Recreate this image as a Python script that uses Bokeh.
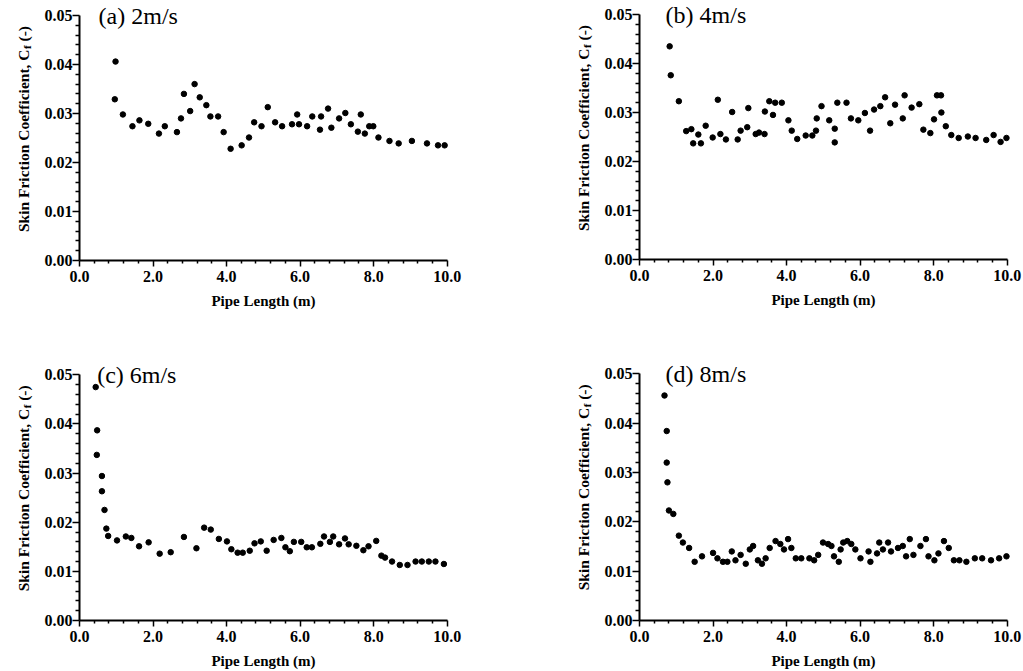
from math import pi
from bokeh.plotting import figure
from bokeh.layouts import row, column
from bokeh.models import Range1d, FixedTicker, PrintfTickFormatter, Label
from bokeh.embed import file_html
from bokeh.resources import INLINE

# ---------------- data ----------------
x_a = [0.96, 0.98, 1.18, 1.44, 1.63, 1.87, 2.16, 2.32, 2.65, 2.76, 2.84, 3.01, 3.13, 3.27,
       3.45, 3.56, 3.77, 3.92, 4.11, 4.41, 4.61, 4.75, 4.95, 5.12, 5.32, 5.51, 5.78, 5.92,
       5.97, 6.19, 6.33, 6.54, 6.57, 6.76, 6.85, 7.06, 7.23, 7.38, 7.57, 7.65, 7.76, 7.88,
       7.99, 8.13, 8.43, 8.68, 9.04, 9.45, 9.75, 9.93]
y_a = [0.0329, 0.0406, 0.0298, 0.0274, 0.0286, 0.0279, 0.0259, 0.0274, 0.0262, 0.0290,
       0.0340, 0.0305, 0.0360, 0.0333, 0.0317, 0.0294, 0.0294, 0.0262, 0.0228, 0.0235,
       0.0251, 0.0282, 0.0274, 0.0313, 0.0282, 0.0274, 0.0278, 0.0298, 0.0278, 0.0274,
       0.0294, 0.0267, 0.0294, 0.0310, 0.0271, 0.0290, 0.0301, 0.0278, 0.0263, 0.0298,
       0.0259, 0.0274, 0.0274, 0.0251, 0.0244, 0.0239, 0.0244, 0.0239, 0.0235, 0.0235]

x_b = [0.82, 0.85, 1.07, 1.27, 1.41, 1.46, 1.60, 1.67, 1.80, 1.99, 2.13, 2.20, 2.35, 2.52,
       2.67, 2.75, 2.93, 2.96, 3.16, 3.25, 3.40, 3.41, 3.53, 3.63, 3.69, 3.87, 4.05, 4.14,
       4.29, 4.52, 4.70, 4.80, 4.82, 4.95, 5.16, 5.31, 5.31, 5.38, 5.63, 5.75, 5.95, 6.13,
       6.27, 6.38, 6.55, 6.68, 6.82, 6.95, 7.16, 7.21, 7.40, 7.61, 7.72, 7.91, 8.01, 8.09,
       8.20, 8.21, 8.33, 8.48, 8.68, 8.93, 9.14, 9.43, 9.63, 9.82, 9.98]
y_b = [0.0435, 0.0376, 0.0323, 0.0262, 0.0266, 0.0237, 0.0255, 0.0237, 0.0273, 0.0249,
       0.0326, 0.0256, 0.0245, 0.0301, 0.0245, 0.0263, 0.0270, 0.0309, 0.0256, 0.0259,
       0.0256, 0.0302, 0.0323, 0.0295, 0.0320, 0.0320, 0.0284, 0.0263, 0.0246, 0.0253,
       0.0253, 0.0263, 0.0288, 0.0313, 0.0284, 0.0267, 0.0239, 0.0320, 0.0320, 0.0288,
       0.0284, 0.0299, 0.0263, 0.0306, 0.0313, 0.0331, 0.0278, 0.0316, 0.0288, 0.0335,
       0.0310, 0.0317, 0.0265, 0.0258, 0.0286, 0.0335, 0.0335, 0.0300, 0.0272, 0.0254,
       0.0248, 0.0251, 0.0248, 0.0244, 0.0254, 0.0240, 0.0248]

x_c = [0.44, 0.48, 0.47, 0.61, 0.61, 0.68, 0.73, 0.78, 1.02, 1.26, 1.41, 1.62, 1.88, 2.18,
       2.48, 2.84, 3.18, 3.39, 3.57, 3.79, 4.01, 4.13, 4.30, 4.44, 4.63, 4.76, 4.93, 5.09,
       5.28, 5.49, 5.60, 5.72, 5.83, 6.03, 6.18, 6.32, 6.55, 6.65, 6.81, 6.90, 7.06, 7.22,
       7.32, 7.53, 7.72, 7.86, 8.07, 8.21, 8.31, 8.50, 8.71, 8.92, 9.14, 9.31, 9.50, 9.68,
       9.91]
y_c = [0.0475, 0.0387, 0.0337, 0.0294, 0.0263, 0.0225, 0.0187, 0.0172, 0.0163, 0.0171,
       0.0168, 0.0151, 0.0159, 0.0136, 0.0139, 0.0170, 0.0147, 0.0189, 0.0185, 0.0166,
       0.0161, 0.0145, 0.0138, 0.0138, 0.0142, 0.0157, 0.0161, 0.0142, 0.0164, 0.0168,
       0.0149, 0.0141, 0.0160, 0.0160, 0.0149, 0.0149, 0.0156, 0.0171, 0.0160, 0.0171,
       0.0155, 0.0167, 0.0155, 0.0152, 0.0143, 0.0151, 0.0162, 0.0132, 0.0128, 0.0120,
       0.0113, 0.0113, 0.0120, 0.0120, 0.0120, 0.0120, 0.0115]

x_d = [0.68, 0.74, 0.74, 0.76, 0.80, 0.92, 1.07, 1.18, 1.35, 1.50, 1.70, 2.00, 2.12, 2.27,
       2.39, 2.51, 2.61, 2.75, 2.89, 3.00, 3.09, 3.22, 3.33, 3.43, 3.54, 3.70, 3.83, 3.93,
       4.04, 4.13, 4.25, 4.40, 4.62, 4.75, 4.86, 4.99, 5.13, 5.22, 5.29, 5.42, 5.47, 5.54,
       5.65, 5.76, 5.87, 6.01, 6.23, 6.28, 6.46, 6.52, 6.62, 6.76, 6.84, 7.03, 7.16, 7.25,
       7.35, 7.45, 7.64, 7.79, 7.86, 8.02, 8.13, 8.28, 8.41, 8.55, 8.70, 8.89, 9.12, 9.32,
       9.56, 9.78, 9.98]
y_d = [0.0456, 0.0384, 0.0320, 0.0280, 0.0223, 0.0216, 0.0172, 0.0158, 0.0147, 0.0119,
       0.0130, 0.0137, 0.0126, 0.0119, 0.0119, 0.0140, 0.0122, 0.0133, 0.0115, 0.0144,
       0.0151, 0.0122, 0.0115, 0.0126, 0.0147, 0.0161, 0.0155, 0.0144, 0.0165, 0.0147,
       0.0126, 0.0126, 0.0126, 0.0122, 0.0133, 0.0158, 0.0155, 0.0151, 0.0130, 0.0119,
       0.0144, 0.0158, 0.0161, 0.0155, 0.0144, 0.0126, 0.0140, 0.0119, 0.0136, 0.0158,
       0.0144, 0.0158, 0.0140, 0.0147, 0.0151, 0.0130, 0.0165, 0.0133, 0.0151, 0.0165,
       0.0130, 0.0122, 0.0136, 0.0161, 0.0147, 0.0122, 0.0122, 0.0119, 0.0126, 0.0126,
       0.0122, 0.0126, 0.0130]

titles = ["(a) 2m/s", "(b) 4m/s", "(c) 6m/s", "(d) 8m/s"]
title_x = [0.52, 0.71, 0.48, 0.71]

x_major = [0, 2, 4, 6, 8, 10]
x_minor = [0.4, 0.8, 1.2, 1.6, 2.4, 2.8, 3.2, 3.6, 4.4, 4.8, 5.2, 5.6,
           6.4, 6.8, 7.2, 7.6, 8.4, 8.8, 9.2, 9.6]
y_major = [0.0, 0.01, 0.02, 0.03, 0.04, 0.05]
y_minor = [0.002, 0.004, 0.006, 0.008, 0.012, 0.014, 0.016, 0.018,
           0.022, 0.024, 0.026, 0.028, 0.032, 0.034, 0.036, 0.038,
           0.042, 0.044, 0.046, 0.048]

x_label = "Pipe Length (m)"
y_label_main = "Skin Friction Coefficient, C"
y_label_sub = "f"
y_label_tail = "(-)"

X_MIN, X_MAX = 0.0, 10.0
Y_MIN, Y_MAX = 0.0, 0.05

FONT = "Liberation Serif"


def make_panel(xs, ys, title, tx, width, height, fl, fr, ft, fb):
    """fl/fr: pixel columns of x=0 / x=10; ft/fb: pixel rows of y=0.05 / y=0
    (all measured from the figure's top-left corner)."""
    ppx = (fr - fl) / (X_MAX - X_MIN)
    ppy = (fb - ft) / (Y_MAX - Y_MIN)
    xr = Range1d(X_MIN - fl / ppx, X_MAX + (width - fr) / ppx)
    yr = Range1d(Y_MIN - (height - fb) / ppy, Y_MAX + ft / ppy)
    p = figure(width=width, height=height, output_backend="svg", toolbar_location=None,
               x_range=xr, y_range=yr,
               min_border_left=0, min_border_right=0, min_border_top=0,
               min_border_bottom=0)
    p.outline_line_color = None
    p.xgrid.visible = False
    p.ygrid.visible = False
    p.background_fill_color = "white"
    p.border_fill_color = "white"

    p.scatter(xs, ys, marker="circle", size=5.5, color="black")

    xa = p.xaxis[0]
    xa.fixed_location = Y_MIN
    xa.bounds = (X_MIN, X_MAX)
    xa.ticker = FixedTicker(ticks=x_major, minor_ticks=x_minor)
    xa.formatter = PrintfTickFormatter(format="%.1f")
    ya = p.yaxis[0]
    ya.fixed_location = X_MIN
    ya.bounds = (Y_MIN, Y_MAX)
    ya.ticker = FixedTicker(ticks=y_major, minor_ticks=y_minor)
    ya.formatter = PrintfTickFormatter(format="%.2f")

    for ax in (xa, ya):
        ax.axis_line_color = "black"
        ax.axis_line_width = 2
        ax.major_tick_line_width = 1.5
        ax.minor_tick_line_width = 1.5
        ax.major_tick_line_color = "black"
        ax.minor_tick_line_color = "black"
        ax.major_tick_in = 0
        ax.minor_tick_in = 0
        ax.major_label_text_font = FONT
        ax.major_label_text_font_style = "bold"
        ax.major_label_text_font_size = "16px"
        ax.major_label_text_color = "black"
    xa.major_tick_out = 6
    xa.minor_tick_out = 3
    xa.major_label_standoff = 4
    ya.major_tick_out = 7
    ya.minor_tick_out = 4
    ya.major_label_standoff = 0

    xa.axis_label = x_label
    xa.axis_label_text_font = FONT
    xa.axis_label_text_font_style = "bold"
    xa.axis_label_text_font_size = "15px"
    xa.axis_label_text_color = "black"
    xa.axis_label_standoff = 8

    # y-axis label with a subscript, drawn as three rotated pieces
    base_x = fl - 56                 # baseline column of the label
    end_row = ft + 34                # row where "...C" ends
    sy_end = height - end_row
    p.add_layout(Label(x=base_x, y=sy_end, x_units="screen", y_units="screen",
                       text=y_label_main, angle=pi / 2, text_align="right",
                       text_baseline="alphabetic", text_font=FONT,
                       text_font_style="bold", text_font_size="15.5px",
                       text_color="black"))
    p.add_layout(Label(x=base_x + 3.5, y=sy_end + 0.5, x_units="screen", y_units="screen",
                       text=y_label_sub, angle=pi / 2, text_align="left",
                       text_baseline="alphabetic", text_font=FONT,
                       text_font_style="bold", text_font_size="11px",
                       text_color="black"))
    p.add_layout(Label(x=base_x, y=sy_end + 8, x_units="screen", y_units="screen",
                       text=y_label_tail, angle=pi / 2, text_align="left",
                       text_baseline="alphabetic", text_font=FONT,
                       text_font_style="bold", text_font_size="15.5px",
                       text_color="black"))

    p.add_layout(Label(x=tx, y=Y_MAX, text=title, text_align="left",
                       text_baseline="middle", text_font=FONT,
                       text_font_size="24px", text_color="black"))
    return p


pa = make_panel(x_a, y_a, titles[0], title_x[0], 560, 340, 79, 446.7, 15, 260)
pb = make_panel(x_b, y_b, titles[1], title_x[1], 463, 340, 79, 446.7, 14, 259)
pc = make_panel(x_c, y_c, titles[2], title_x[2], 560, 331, 79, 446.7, 34.3, 280)
pd = make_panel(x_d, y_d, titles[3], title_x[3], 463, 331, 79, 446.7, 33.3, 280)

layout = column(row(pa, pb), row(pc, pd))
open("out.html", "w").write(file_html(layout, INLINE))
